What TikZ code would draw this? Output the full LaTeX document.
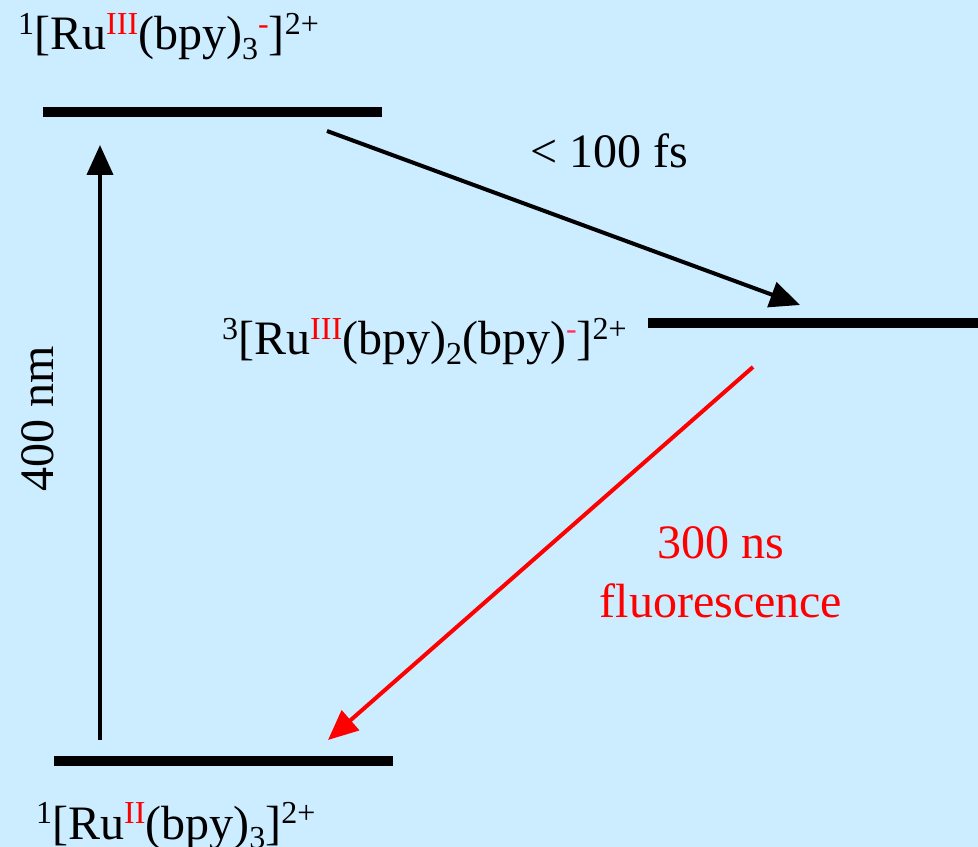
\documentclass[tikz,border=0pt]{standalone}
\usepackage{fontspec}
\setmainfont{Liberation Serif}
\newfontfamily\timesfont{Liberation Serif}
\usetikzlibrary{arrows.meta}
\definecolor{pcCCECFF}{HTML}{CCECFF}
\definecolor{pcFF0000}{HTML}{FF0000}
\definecolor{pcFF3366}{HTML}{FF3366}
\definecolor{pc000000}{HTML}{000000}
\newcommand{\up}[1]{\raisebox{0.33em}{\fontsize{32bp}{36bp}\selectfont #1}}
\newcommand{\dn}[1]{\raisebox{-0.2em}{\fontsize{32bp}{36bp}\selectfont #1}}
\tikzset{
  level/.style={line width=10bp, color=pc000000},
  trans/.style={line width=4bp, -{Triangle[length=30bp,width=26bp]}},
  lbl/.style={inner sep=0, text=pc000000, font=\timesfont\fontsize{48bp}{56bp}\selectfont},
}

\begin{document}
\begin{tikzpicture}
\path[use as bounding box] (0bp,0bp) rectangle (978bp,847bp);
\path[fill=pcCCECFF] (0bp,0bp) rectangle (978bp,847bp);
% energy levels
\coordinate (sw) at (43bp,735bp);
\coordinate (se) at (382bp,735bp);
\coordinate (tw) at (648bp,524bp);
\coordinate (te) at (978bp,524bp);
\coordinate (gw) at (54bp,86bp);
\coordinate (ge) at (393bp,86bp);
\draw[level] (sw) -- (se);
\draw[level] (tw) -- (te);
\draw[level] (gw) -- (ge);
% labels
\node[lbl, anchor=base west] (singlet) at (18bp,797bp) {\up{1}[Ru\up{\textcolor{pcFF0000}{III}}(bpy)\dn{3}\up{\textcolor{pcFF0000}{-}}]\up{2+}};
\node[lbl, anchor=base west] (triplet) at (222bp,492bp) {\up{3}[Ru\up{\textcolor{pcFF0000}{III}}(bpy)\dn{2}(bpy)\up{\textcolor{pcFF3366}{-}}]\up{2+}};
\node[lbl, anchor=base west] (ground) at (36bp,8bp) {\up{1}[Ru\up{\textcolor{pcFF0000}{II}}(bpy)\dn{3}]\up{2+}};
% transitions
\coordinate (exc0) at (100bp,107bp);
\coordinate (exc1) at (100bp,702bp);
\coordinate (isc0) at (327bp,716bp);
\coordinate (isc1) at (800bp,542bp);
\coordinate (fl0) at (753bp,480bp);
\coordinate (fl1) at (328bp,107bp);
\draw[trans, color=pc000000] (exc0) -- (exc1);
\draw[trans, color=pc000000] (isc0) -- (isc1);
\draw[trans, color=pcFF0000] (fl0) -- (fl1);
\node[lbl, anchor=base, rotate=90] (nm) at (53bp,428bp) {400 nm};
\node[lbl, anchor=base] (fs) at (609bp,679bp) {< 100 fs};
\node[lbl, anchor=base, text=pcFF0000] (ns) at (721bp,288bp) {300 ns};
\node[lbl, anchor=base, text=pcFF0000] (fluo) at (721bp,229bp) {fluorescence};
\end{tikzpicture}
\end{document}
